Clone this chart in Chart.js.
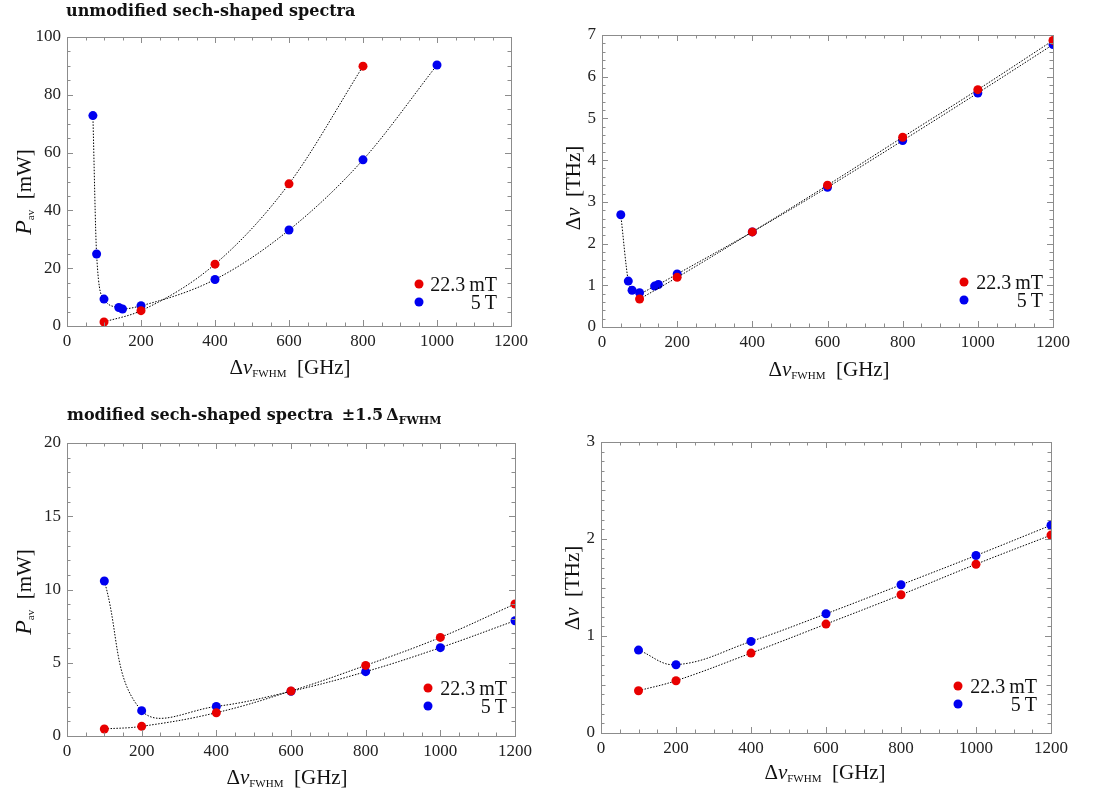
<!DOCTYPE html>
<html>
<head>
<meta charset="utf-8">
<script src="https://cdn.jsdelivr.net/npm/chart.js@4"></script>
<style>
  body { margin: 0; background: #fff; }
  #page { position: relative; width: 1097px; height: 794px; overflow: hidden; font-family: "Liberation Serif", serif; color: #111; }
  .panel { position: absolute; }
  .txt { position: absolute; white-space: nowrap; pointer-events: none; }
  .head { font-family: "DejaVu Serif", serif; font-weight: bold; font-size: 16px; }
  .ytitle { font-size: 21px; transform: translate(-50%, -50%) rotate(-90deg); }
  .xtitle { font-size: 21px; transform: translate(-50%, -50%); }
  .big { font-size: 24px; }
  .sub { font-size: 11px; position: relative; top: 3px; }
  .leg { font-size: 20px; text-align: right; transform: translateY(-50%); }
  .dot { position: absolute; width: 9px; height: 9px; border-radius: 50%; transform: translate(-50%, -50%); }
</style>
</head>
<body>
<div id="page">
  <canvas id="c1" class="panel" style="left:0;top:0"></canvas>
  <canvas id="c2" class="panel" style="left:550px;top:0"></canvas>
  <canvas id="c3" class="panel" style="left:0;top:395px"></canvas>
  <canvas id="c4" class="panel" style="left:550px;top:395px"></canvas>

  <div class="txt head" style="left:66px;top:1px">unmodified sech-shaped spectra</div>
  <div class="txt head" style="left:67px;top:405px">modified sech-shaped spectra &#8201;±1.5&#8201;Δ<span style="font-size:11px;position:relative;top:4px">FWHM</span></div>

  <div class="txt ytitle" style="left:23px;top:192px"><i class="big">P</i><span class="sub">av</span>&nbsp;&nbsp;[mW]</div>
  <div class="txt ytitle" style="left:573px;top:188px">Δ<i>ν</i>&nbsp;&nbsp;[THz]</div>
  <div class="txt ytitle" style="left:23px;top:592px"><i class="big">P</i><span class="sub">av</span>&nbsp;&nbsp;[mW]</div>
  <div class="txt ytitle" style="left:572px;top:588px">Δ<i>ν</i>&nbsp;&nbsp;[THz]</div>

  <div class="txt xtitle" style="left:290px;top:367px">Δ<i>ν</i><span class="sub">FWHM</span>&nbsp;&nbsp;[GHz]</div>
  <div class="txt xtitle" style="left:829px;top:369px">Δ<i>ν</i><span class="sub">FWHM</span>&nbsp;&nbsp;[GHz]</div>
  <div class="txt xtitle" style="left:287px;top:777px">Δ<i>ν</i><span class="sub">FWHM</span>&nbsp;&nbsp;[GHz]</div>
  <div class="txt xtitle" style="left:825px;top:772px">Δ<i>ν</i><span class="sub">FWHM</span>&nbsp;&nbsp;[GHz]</div>
</div>

<script>
// series labels
const seriesNames = ['22.3\u2009mT', '5\u2009T'];
const seriesColors = ['rgb(232,0,0)', 'rgb(0,0,240)'];

// top left: unmodified spectra, average power
const fwhm1Red = [100, 200, 400, 600, 800];
const pav1Red = [1.4, 5.3, 21.4, 49.2, 89.9];
const fwhm1Blue = [70, 80, 100, 140, 150, 200, 400, 600, 800, 1000];
const pav1Blue = [72.8, 24.9, 9.3, 6.4, 5.9, 7.0, 16.1, 33.2, 57.5, 90.3];

// top right: unmodified spectra, bandwidth
const fwhm2Red = [100, 200, 400, 600, 800, 1000, 1200];
const dnu2Red = [0.67, 1.19, 2.28, 3.40, 4.55, 5.69, 6.87];
const fwhm2Blue = [50, 70, 80, 100, 140, 150, 200, 400, 600, 800, 1000, 1200];
const dnu2Blue = [2.69, 1.10, 0.88, 0.82, 0.98, 1.02, 1.27, 2.28, 3.35, 4.47, 5.61, 6.77];

// bottom: modified spectra
const fwhm3 = [100, 200, 400, 600, 800, 1000, 1200];
const pav3Red = [0.48, 0.66, 1.59, 3.07, 4.82, 6.73, 9.01];
const pav3Blue = [10.58, 1.73, 2.02, 3.05, 4.39, 6.03, 7.87];
const dnu4Red = [0.436, 0.539, 0.824, 1.123, 1.425, 1.74, 2.04];
const dnu4Blue = [0.855, 0.704, 0.944, 1.229, 1.528, 1.83, 2.142];

// frame with inward ticks on all four sides (mathematica style)
const frameTicks = {
  id: 'frameTicks',
  afterDatasetsDraw(chart, args, o) {
    const ctx = chart.ctx, a = chart.chartArea;
    const sx = chart.scales.x, sy = chart.scales.y;
    ctx.save();
    ctx.strokeStyle = '#8c8c8c';
    ctx.lineWidth = 1;
    ctx.strokeRect(Math.round(a.left) + 0.5, Math.round(a.top) + 0.5, Math.round(a.width), Math.round(a.height));
    ctx.beginPath();
    const tickLen = (v, major, mid) => {
      if (Math.abs(v / major - Math.round(v / major)) < 1e-6) return 6;
      if (mid && Math.abs(v / mid - Math.round(v / mid)) < 1e-6) return 4.5;
      return 3.5;
    };
    let n = Math.round((sx.max - sx.min) / o.xMinor);
    for (let i = 1; i < n; i++) {
      const v = sx.min + i * o.xMinor;
      const p = Math.round(sx.getPixelForValue(v)) + 0.5;
      const L = tickLen(v, o.xMajor);
      ctx.moveTo(p, a.bottom); ctx.lineTo(p, a.bottom - L);
      ctx.moveTo(p, a.top); ctx.lineTo(p, a.top + L);
    }
    n = Math.round((sy.max - sy.min) / o.yMinor);
    for (let i = 1; i < n; i++) {
      const v = sy.min + i * o.yMinor;
      const p = Math.round(sy.getPixelForValue(v)) + 0.5;
      const L = tickLen(v, o.yMajor, o.yMid);
      ctx.moveTo(a.left, p); ctx.lineTo(a.left + L, p);
      ctx.moveTo(a.right, p); ctx.lineTo(a.right - L, p);
    }
    ctx.stroke();
    ctx.restore();
  }
};

function pts(xs, ys) {
  return xs.map((x, i) => ({ x: x, y: ys[i] }));
}

function series(k, xs, ys, smooth) {
  return {
    label: seriesNames[k],
    data: pts(xs, ys),
    showLine: true,
    borderColor: '#000',
    borderWidth: 1,
    borderDash: [1.5, 1.5],
    tension: smooth ? 0.4 : 0.35,
    cubicInterpolationMode: smooth ? 'default' : 'monotone',
    pointRadius: 4.5,
    pointHoverRadius: 4.5,
    pointBorderWidth: 0,
    pointBackgroundColor: seriesColors[k]
  };
}

function makeChart(id, w, h, pad, datasets, yMax, yStep, ticksCfg) {
  const cv = document.getElementById(id);
  cv.width = w; cv.height = h;
  cv.style.width = w + 'px'; cv.style.height = h + 'px';
  const tickFont = { family: "'Liberation Serif', serif", size: 17 };
  return new Chart(cv, {
    type: 'scatter',
    data: { datasets: datasets },
    options: {
      responsive: false,
      animation: false,
      layout: { padding: pad },
      plugins: { legend: { display: false }, tooltip: { enabled: false }, frameTicks: ticksCfg },
      scales: {
        x: {
          type: 'linear', min: 0, max: 1200,
          grid: { display: false, drawTicks: false },
          border: { display: false },
          ticks: { stepSize: 200, padding: 5, color: '#222', font: tickFont, maxRotation: 0, autoSkip: false,
                   callback: v => String(v) },
          afterFit: s => { s.height = 30; }
        },
        y: {
          type: 'linear', min: 0, max: yMax,
          grid: { display: false, drawTicks: false },
          border: { display: false },
          ticks: { stepSize: yStep, padding: 6, color: '#222', font: tickFont, callback: v => String(v) },
          afterFit: s => { s.width = 40; }
        }
      }
    },
    plugins: [frameTicks]
  });
}

makeChart('c1', 548, 390, { left: 27, right: 37, top: 37, bottom: 34 },
  [series(0, fwhm1Red, pav1Red, false), series(1, fwhm1Blue, pav1Blue, false)],
  100, 20, { xMajor: 200, xMinor: 50, yMajor: 20, yMinor: 5 });

makeChart('c2', 547, 390, { left: 12, right: 44, top: 35, bottom: 33 },
  [series(0, fwhm2Red, dnu2Red, false), series(1, fwhm2Blue, dnu2Blue, false)],
  7, 1, { xMajor: 200, xMinor: 50, yMajor: 1, yMinor: 0.2 });

makeChart('c3', 548, 399, { left: 27, right: 33, top: 48, bottom: 28 },
  [series(0, fwhm3, pav3Red, true), series(1, fwhm3, pav3Blue, true)],
  20, 5, { xMajor: 200, xMinor: 50, yMajor: 5, yMinor: 1 });

makeChart('c4', 547, 399, { left: 11, right: 46, top: 47, bottom: 31 },
  [series(0, fwhm3, dnu4Red, true), series(1, fwhm3, dnu4Blue, true)],
  3, 1, { xMajor: 200, xMinor: 50, yMajor: 1, yMinor: 0.1, yMid: 0.5 });

// legends inside the lower right corner of each frame
const legendSpots = [
  { dotX: 419, textR: 497, y1: 284, y2: 302 },
  { dotX: 964, textR: 1043, y1: 282, y2: 300 },
  { dotX: 428, textR: 507, y1: 688, y2: 706 },
  { dotX: 958, textR: 1037, y1: 686, y2: 704 }
];
const page = document.getElementById('page');
legendSpots.forEach(s => {
  [s.y1, s.y2].forEach((y, k) => {
    const d = document.createElement('div');
    d.className = 'dot';
    d.style.left = s.dotX + 'px';
    d.style.top = y + 'px';
    d.style.background = seriesColors[k];
    page.appendChild(d);
    const t = document.createElement('div');
    t.className = 'txt leg';
    t.style.right = (1097 - s.textR) + 'px';
    t.style.top = y + 'px';
    t.textContent = seriesNames[k];
    page.appendChild(t);
  });
});
</script>
</body>
</html>
